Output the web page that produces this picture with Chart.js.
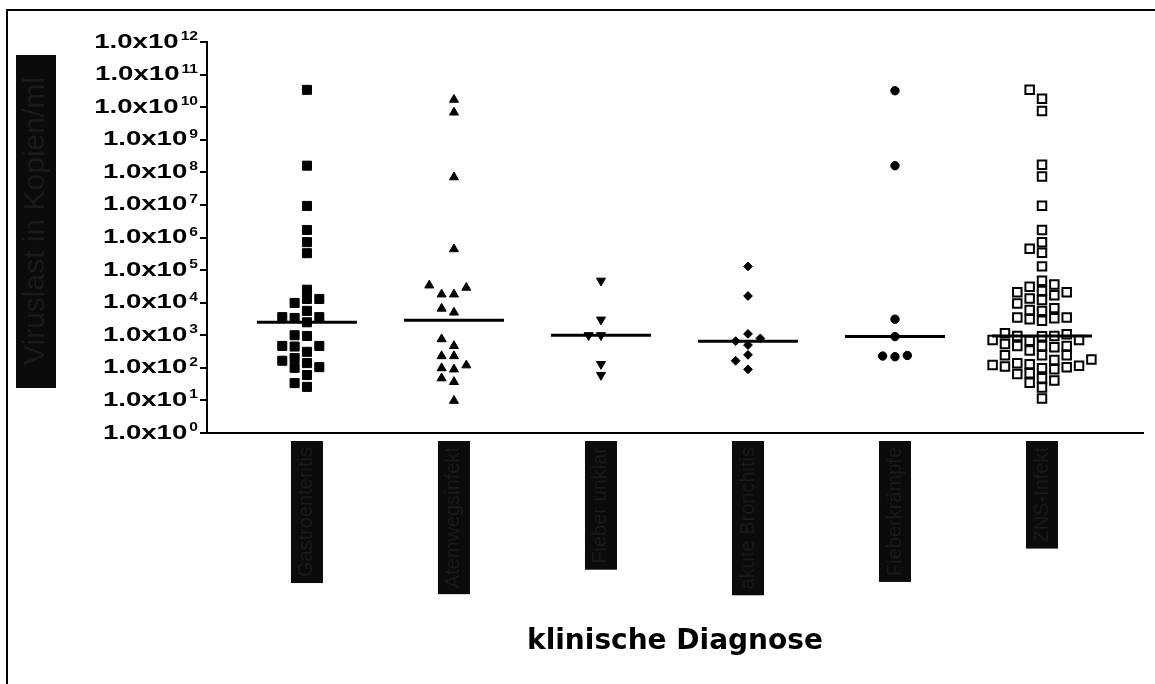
<!DOCTYPE html>
<html>
<head>
<meta charset="utf-8">
<script src="https://cdn.jsdelivr.net/npm/chart.js@4"></script>
<style>
  html, body { margin: 0; padding: 0; background: #fff; overflow: hidden; }
  #wrap { position: relative; width: 1155px; height: 684px; overflow: hidden; }
  #frame { position: absolute; left: 6px; top: 9px; width: 1170px; height: 700px;
           border-top: 2px solid #000; border-left: 2px solid #000; }
  #chart { position: absolute; left: 0; top: 0; }
</style>
</head>
<body>
<div id="wrap">
  <div id="frame"></div>
  <canvas id="chart" width="1155" height="684"></canvas>
</div>
<script>
// categories (x axis), one column of points per category
const categories = ['Gastroenteritis', 'Atemwegsinfekt', 'Fieber unklar', 'akute Bronchitis', 'Fieberkrämpfe', 'ZNS-Infekt'];
const yTitle = 'Viruslast in Kopien/ml';
const xTitle = 'klinische Diagnose';
// y ticks: 1.0x10^0 ... 1.0x10^12
const yTickExponents = [0, 1, 2, 3, 4, 5, 6, 7, 8, 9, 10, 11, 12];

// viral load values per category (copies/ml)
const gastroValues = [3.4e10, 1.6e8, 9.3e6, 1.7e6, 7.2e5, 3.3e5, 2.5e4, 1.3e4, 1.3e4, 9.8e3,
  5.6e3, 3.6e3, 3.4e3, 3.6e3, 2.5e3, 950, 1.0e3, 470, 310, 450, 470, 140, 105, 165, 200, 100, 60, 26, 34];
const atemwegValues = [1.7e10, 6.9e9, 7.1e7, 4.4e5, 2.9e4, 3.4e4, 1.8e4, 1.8e4, 6.6e3, 5.0e3,
  760, 470, 230, 230, 120, 90, 98, 48, 37, 9.8];
const fieberValues = [4.7e4, 3.0e3, 1.0e3, 1.0e3, 130, 60];
const bronchitisValues = [1.3e5, 1.6e4, 1.1e3, 800, 660, 500, 250, 165, 90];
const krampfValues = [3.2e10, 1.6e8, 3.1e3, 910, 240, 220, 230];
const znsValues = [3.4e10, 1.8e10, 7.6e9, 1.7e8, 7.4e7, 9.5e6, 1.7e6, 7.1e5, 3.4e5, 4.5e5,
  1.3e5, 4.7e4, 3.6e4, 2.3e4, 2.1e4, 1.7e4, 2.1e4, 3.1e4, 1.2e4, 9.5e3, 1.35e4, 6.8e3, 5.6e3,
  3.5e3, 3.1e3, 2.8e3, 3.3e3, 3.5e3, 6.0e3, 950, 930, 1.15e3, 1.07e3, 710, 540, 680, 710, 950,
  470, 470, 430, 470, 340, 245, 245, 245, 180, 175, 130, 115, 105, 91, 138, 98, 110, 123,
  65, 48, 68, 41, 35, 25, 11.5];

const groupValues = [gastroValues, atemwegValues, fieberValues, bronchitisValues, krampfValues, znsValues];

// marker look per category
const markerStyles = [
  { pointStyle: 'rect', radius: 6.4, fill: '#000', rotation: 0 },
  { pointStyle: 'triangle', radius: 5.2, fill: '#000', rotation: 0 },
  { pointStyle: 'triangle', radius: 5.2, fill: '#000', rotation: 180 },
  { pointStyle: 'rectRot', radius: 4.4, fill: '#000', rotation: 0 },
  { pointStyle: 'circle', radius: 4.2, fill: '#000', rotation: 0 },
  { pointStyle: 'rect', radius: 6.0, fill: '#fff', rotation: 0 }
];

// simple beeswarm: spread points sideways when they would overlap vertically
const slotStep = 0.084;   // x units between neighbouring columns
const rowGap = 0.28;      // decades that two markers need to not overlap
function swarm(values, center) {
  const sorted = values.slice().sort((a, b) => a - b);
  const placed = [];
  const order = [0];
  for (let k = 1; k < 12; k++) { order.push(-k, k); }
  return sorted.map(v => {
    const lv = Math.log10(v);
    let slot = 0;
    for (const s of order) {
      const clash = placed.some(p => p.slot === s && Math.abs(p.lv - lv) < rowGap);
      if (!clash) { slot = s; break; }
    }
    placed.push({ slot, lv });
    return { x: center + slot * slotStep, y: v };
  });
}

function median(values) {
  const s = values.slice().sort((a, b) => a - b);
  const m = Math.floor(s.length / 2);
  return s.length % 2 ? s[m] : (s[m - 1] + s[m]) / 2;
}

const pointSets = groupValues.map((vals, i) => {
  const st = markerStyles[i];
  return {
    data: swarm(vals, i + 1),
    pointStyle: st.pointStyle,
    pointRadius: st.radius,
    rotation: st.rotation,
    backgroundColor: st.fill,
    borderColor: '#000',
    borderWidth: st.fill === '#fff' ? 2 : 1,
    order: 2
  };
});

const medianSets = groupValues.map((vals, i) => {
  const m = median(vals);
  return {
    data: [{ x: i + 1 - 0.34, y: m }, { x: i + 1 + 0.34, y: m }],
    showLine: true,
    borderColor: '#000',
    borderWidth: 3,
    pointRadius: 0,
    order: 1
  };
});

const tickFont = '"Liberation Sans", Arial, sans-serif';

// tick labels like 1.0x10^12, category boxes and the y title box
const labelPlugin = {
  id: 'labels',
  afterDraw(chart) {
    const ctx = chart.ctx;
    const yScale = chart.scales.y;
    const xScale = chart.scales.x;

    // y tick labels with superscript exponent, stretched like the original
    ctx.save();
    ctx.fillStyle = '#000';
    ctx.textBaseline = 'alphabetic';
    ctx.textAlign = 'left';
    yTickExponents.forEach(e => {
      const py = yScale.getPixelForValue(Math.pow(10, e));
      ctx.font = 'bold 13px ' + tickFont;
      const supW = ctx.measureText(String(e)).width * 1.2;
      ctx.font = 'bold 20px ' + tickFont;
      const mainW = ctx.measureText('1.0x10').width * 1.38;
      const right = 198;

      ctx.save();
      ctx.translate(right - supW - 2 - mainW, py + 5.5);
      ctx.scale(1.38, 1);
      ctx.fillText('1.0x10', 0, 0);
      ctx.restore();

      ctx.save();
      ctx.font = 'bold 13px ' + tickFont;
      ctx.translate(right - supW, py - 2);
      ctx.scale(1.2, 1);
      ctx.fillText(String(e), 0, 0);
      ctx.restore();
    });
    ctx.restore();

    // y axis title in a dark box
    ctx.save();
    ctx.fillStyle = '#0b0b0b';
    ctx.fillRect(16, 55, 40, 333);
    ctx.translate(36, 221);
    ctx.rotate(-Math.PI / 2);
    ctx.font = '30px ' + tickFont;
    ctx.fillStyle = '#1a1a1a';
    ctx.textAlign = 'center';
    ctx.textBaseline = 'middle';
    ctx.fillText(yTitle, 0, 0);
    ctx.restore();

    // category labels, rotated, in dark boxes
    ctx.save();
    ctx.font = '20px ' + tickFont;
    categories.forEach((name, i) => {
      const cx = xScale.getPixelForValue(i + 1);
      const top = yScale.bottom + 8;
      const w = ctx.measureText(name).width;
      const pad = 6;
      ctx.fillStyle = '#0b0b0b';
      ctx.fillRect(cx - 16, top, 32, w + 2 * pad);
      ctx.save();
      ctx.translate(cx, top + pad);
      ctx.rotate(-Math.PI / 2);
      ctx.fillStyle = '#1a1a1a';
      ctx.textAlign = 'right';
      ctx.textBaseline = 'middle';
      ctx.fillText(name, 0, 0);
      ctx.restore();
    });
    ctx.restore();
  }
};

const ctx = document.getElementById('chart').getContext('2d');
new Chart(ctx, {
  type: 'scatter',
  data: { datasets: [...medianSets, ...pointSets] },
  options: {
    responsive: false,
    animation: false,
    layout: { padding: { left: 0, top: 42, right: 12, bottom: 0 } },
    plugins: {
      legend: { display: false },
      tooltip: { enabled: false }
    },
    scales: {
      x: {
        type: 'linear',
        min: 0.32,
        max: 6.687,
        grid: { display: false },
        border: { display: true, color: '#000', width: 2 },
        ticks: { display: false },
        title: {
          display: true,
          text: xTitle,
          color: '#000',
          font: { family: '"DejaVu Sans", sans-serif', size: 28, weight: 'bold' },
          padding: { top: 0, bottom: 25 }
        },
        afterFit(scale) { scale.height = 251; }
      },
      y: {
        type: 'logarithmic',
        min: 1,
        max: 1e12,
        grid: { drawOnChartArea: false, drawTicks: true, tickLength: 7, color: '#000', lineWidth: 2 },
        border: { display: true, color: '#000', width: 2 },
        ticks: { display: false },
        afterBuildTicks(scale) {
          scale.ticks = yTickExponents.map(e => ({ value: Math.pow(10, e) }));
        },
        afterFit(scale) { scale.width = 207; }
      }
    }
  },
  plugins: [labelPlugin]
});
</script>
</body>
</html>
